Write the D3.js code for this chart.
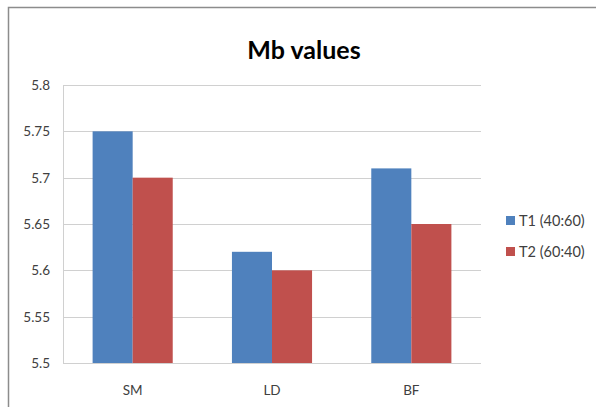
<!DOCTYPE html>
<html>
<head>
<meta charset="utf-8">
<script src="https://cdn.jsdelivr.net/npm/d3@7"></script>
<style>
  body { margin: 0; background: #fff; }
  svg { display: block; }
</style>
</head>
<body>
<svg id="chart" width="596" height="407"></svg>
<script>
// chart data
var categories = ["SM", "LD", "BF"];
var seriesNames = ["T1 (40:60)", "T2 (60:40)"];
var t1Values = [5.75, 5.62, 5.71];
var t2Values = [5.70, 5.60, 5.65];
var yTicks = [5.5, 5.55, 5.6, 5.65, 5.7, 5.75, 5.8];

var colours = ["#4F81BD", "#C0504D"];
var font = "Lato, 'Open Sans', sans-serif";

var svg = d3.select("#chart");

// outer chart border
svg.append("rect")
        .attr("x", 8.5).attr("y", 7.5)
        .attr("width", 600).attr("height", 410)
        .attr("fill", "#fff")
        .attr("stroke", "#8c8c8c")
        .attr("stroke-width", 1.5);

var plot = { left: 63, right: 481, top: 85, bottom: 363 };

var x0 = d3.scaleBand().domain(categories)
        .range([plot.left, plot.right]).paddingInner(0.425).paddingOuter(0.2125);
var x1 = d3.scaleBand().domain(seriesNames).range([0, x0.bandwidth()]);
var y = d3.scaleLinear().domain([5.5, 5.8]).range([plot.bottom, plot.top]);

// gridlines
svg.append("g").selectAll("line").data(yTicks).enter().append("line")
        .attr("x1", plot.left).attr("x2", plot.right)
        .attr("y1", function(d) { return Math.round(y(d)) + 0.5; })
        .attr("y2", function(d) { return Math.round(y(d)) + 0.5; })
        .attr("stroke", "#d0d0d0").attr("stroke-width", 1);

// left axis line
svg.append("line")
        .attr("x1", plot.left + 0.5).attr("x2", plot.left + 0.5)
        .attr("y1", plot.top).attr("y2", plot.bottom)
        .attr("stroke", "#d0d0d0");

// y tick labels
svg.append("g").selectAll("text").data(yTicks).enter().append("text")
        .attr("x", 50).attr("y", function(d) { return y(d) + 5; })
        .attr("text-anchor", "end")
        .attr("font-family", font).attr("font-size", "13.5px")
        .attr("fill", "#404040")
        .text(function(d) { return d3.format("")(d); });

// bars
var series = [t1Values, t2Values];
series.forEach(function(vals, s) {
        svg.append("g").selectAll("rect").data(vals).enter().append("rect")
                .attr("x", function(d, i) { return x0(categories[i]) + x1(seriesNames[s]); })
                .attr("y", function(d) { return y(d); })
                .attr("width", x1.bandwidth())
                .attr("height", function(d) { return y(5.5) - y(d); })
                .attr("fill", colours[s]);
});

// category labels
svg.append("g").selectAll("text").data(categories).enter().append("text")
        .attr("x", function(d) { return x0(d) + x0.bandwidth() / 2; })
        .attr("y", 395)
        .attr("text-anchor", "middle")
        .attr("font-family", font).attr("font-size", "13.5px")
        .attr("fill", "#404040")
        .text(function(d) { return d; });

// title
svg.append("text")
        .attr("x", 304).attr("y", 59)
        .attr("text-anchor", "middle")
        .attr("font-family", font).attr("font-size", "25px")
        .attr("font-weight", "bold")
        .attr("fill", "#000")
        .text("Mb values");

// legend
var legend = svg.append("g").selectAll("g").data(seriesNames).enter().append("g")
        .attr("transform", function(d, i) { return "translate(506," + (216 + i * 31) + ")"; });
legend.append("rect")
        .attr("width", 9).attr("height", 9)
        .attr("fill", function(d, i) { return colours[i]; });
legend.append("text")
        .attr("x", 13).attr("y", 9.5)
        .attr("font-family", font).attr("font-size", "14.5px")
        .attr("fill", "#404040")
        .text(function(d) { return d; });
</script>
</body>
</html>
